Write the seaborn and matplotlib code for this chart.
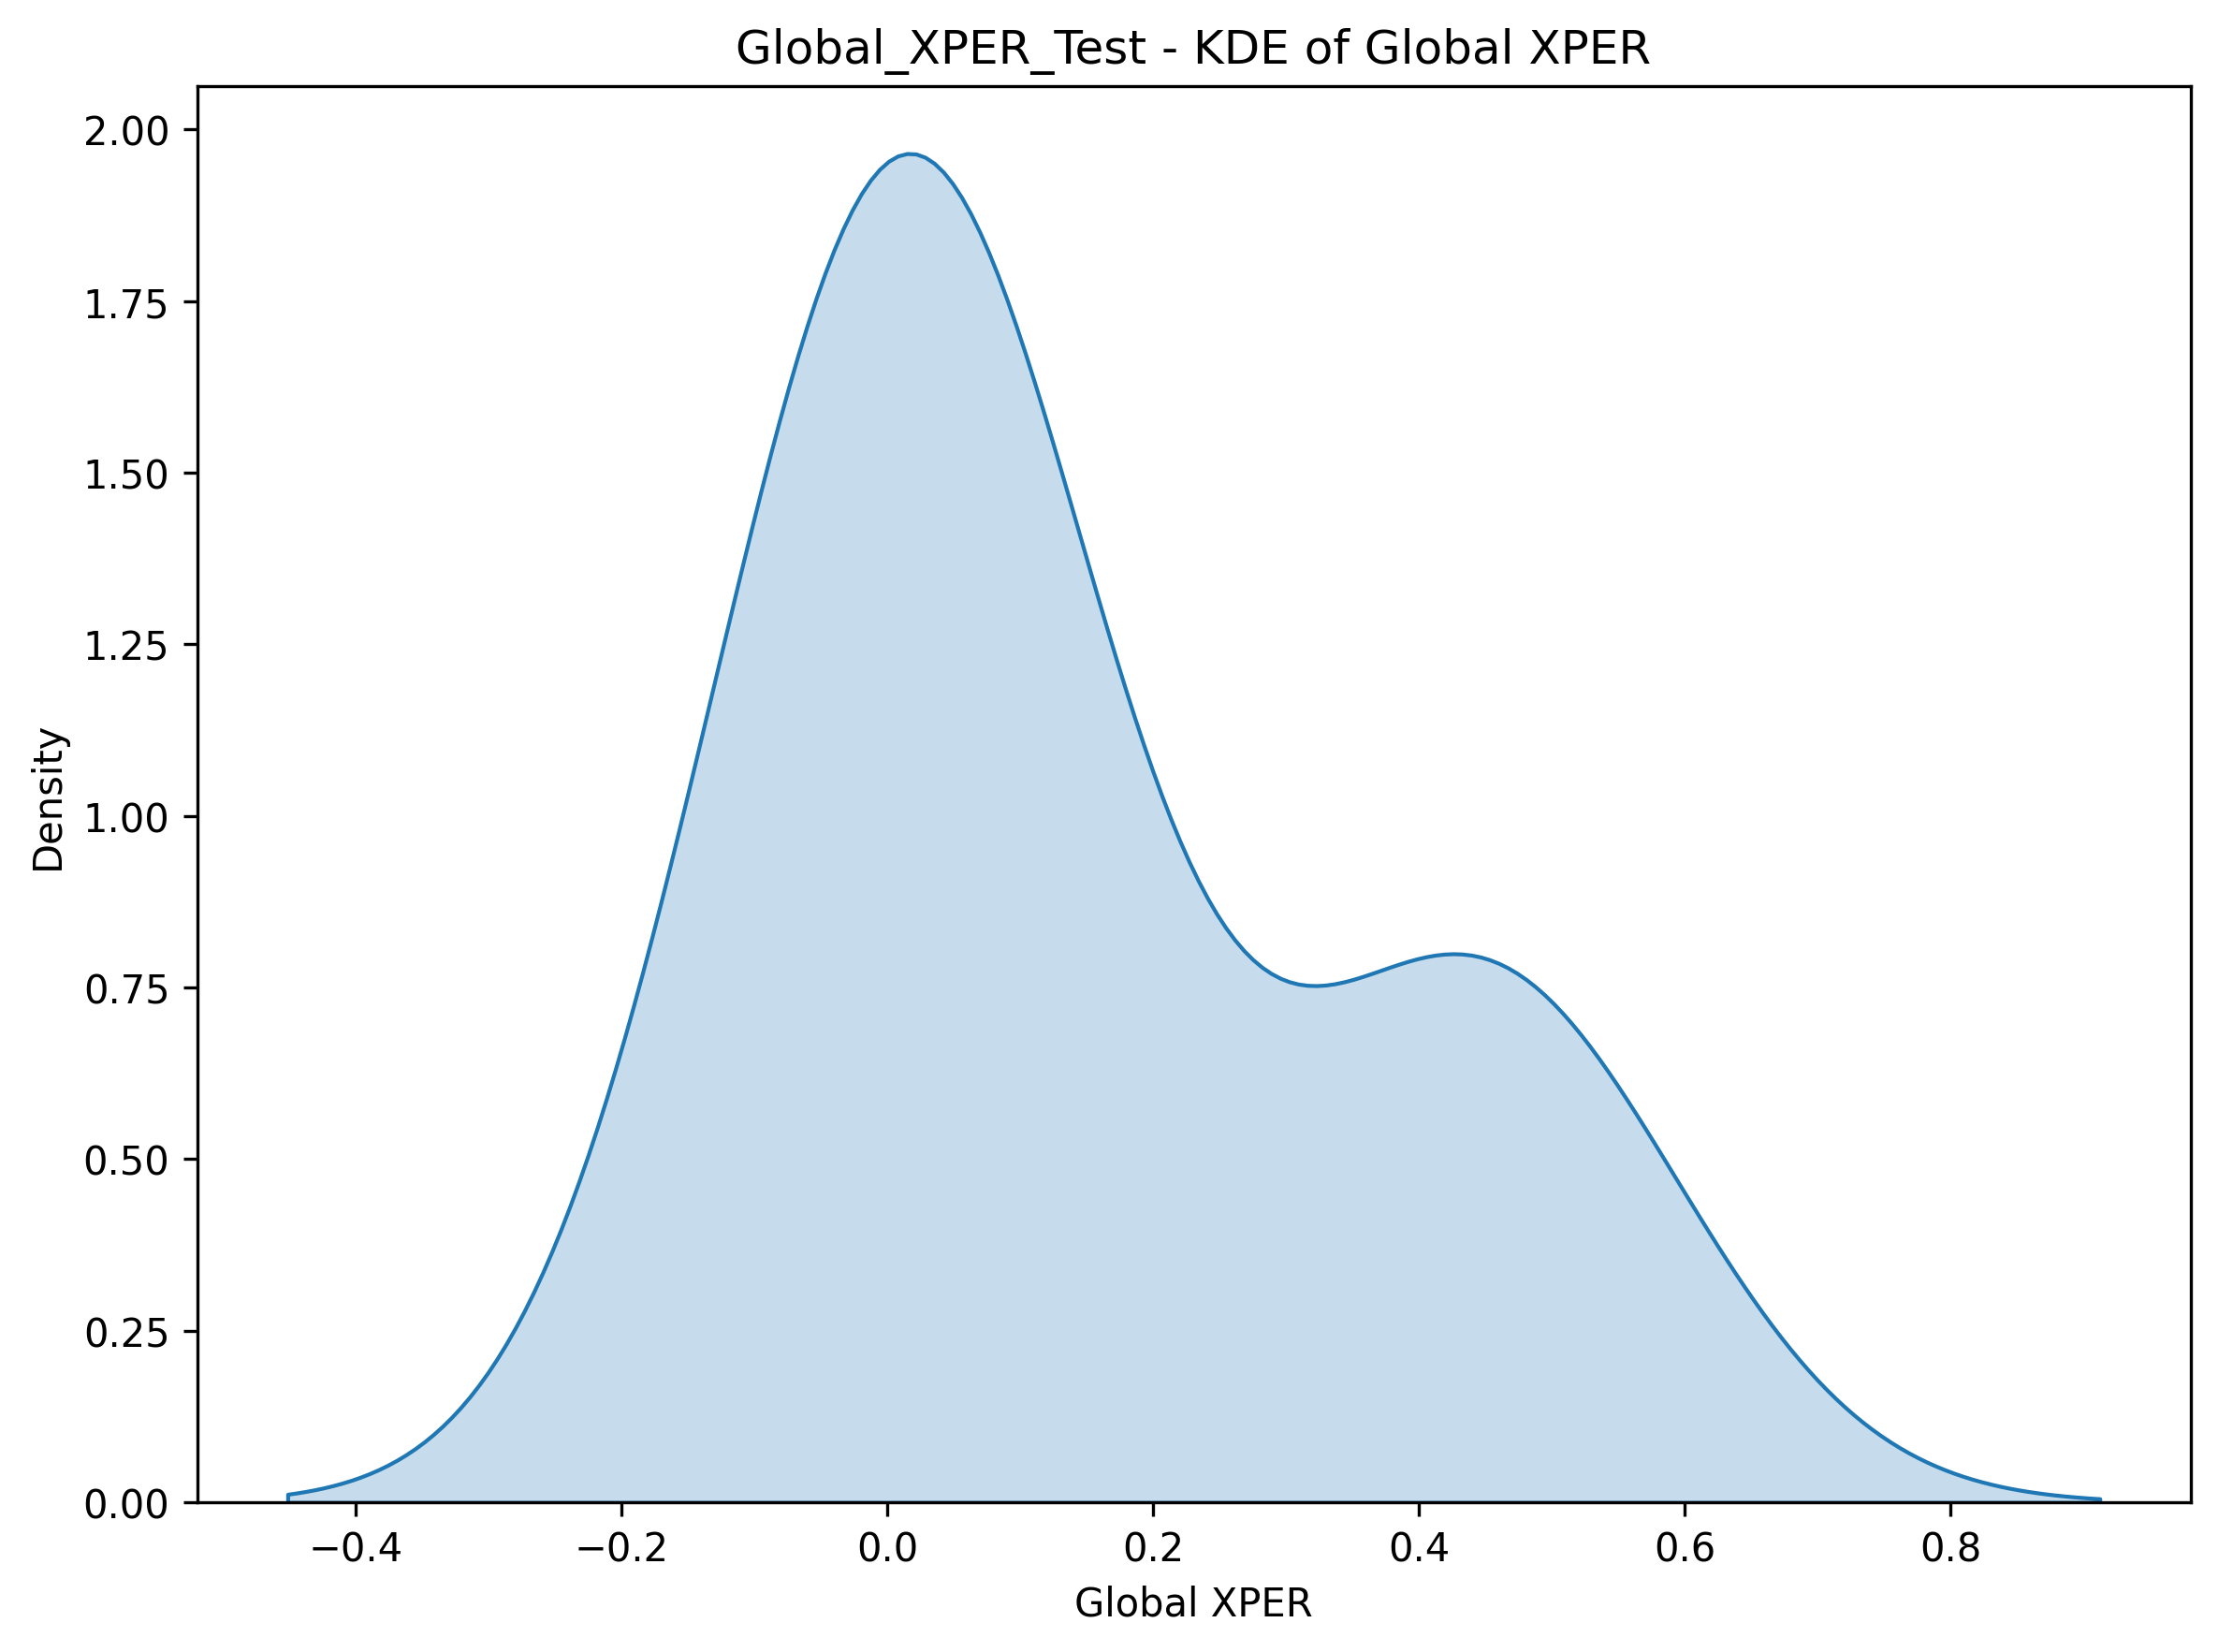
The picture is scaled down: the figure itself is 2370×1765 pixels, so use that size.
import matplotlib
matplotlib.use("Agg")
import matplotlib.pyplot as plt
import seaborn as sns

# Global XPER values
global_xper = [-0.019, 0.001, 0.019, 0.024, 0.048, 0.413, 0.480]

title = "Global_XPER_Test - KDE of Global XPER"
x_label = "Global XPER"

plt.figure(figsize=(8, 6))
sns.kdeplot(x=global_xper, fill=True)
plt.title(title)
plt.xlabel(x_label)
plt.tight_layout()
plt.savefig("out.png", dpi=300, bbox_inches="tight")
plt.close()
